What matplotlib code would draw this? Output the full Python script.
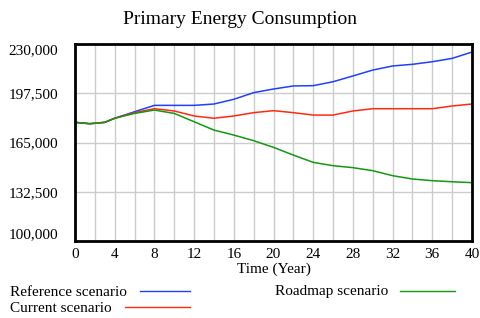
import matplotlib
matplotlib.use("Agg")
import matplotlib.pyplot as plt
from matplotlib.lines import Line2D

plt.rcParams['font.family'] = ['Liberation Serif', 'DejaVu Serif']

years = [0, 1.5, 3, 4, 6, 8, 10, 12, 14, 16, 18, 20, 22, 24, 26, 28, 30, 32, 34, 36, 38, 40]
reference = [178300, 177400, 178300, 181000, 185300, 189500, 189500, 189500, 190400, 193500, 197900,
             200300, 202300, 202500, 205100, 208900, 212800, 215500, 216600, 218300, 220500, 224700]
current = [178300, 177400, 178300, 181000, 184700, 187300, 185800, 182500, 181000, 182500, 184700,
           186000, 184700, 183100, 183100, 185800, 187300, 187300, 187300, 187300, 189100, 190400]
roadmap = [178300, 177400, 178300, 181000, 184200, 186400, 184200, 178700, 173200, 169900, 166200,
           161800, 156700, 151900, 149700, 148400, 146400, 143100, 140900, 139800, 139100, 138500]

y_ticks = [100000, 132500, 165000, 197500, 230000]
x_ticks = list(range(0, 41, 4))

fig = plt.figure(figsize=(4.81, 3.18), dpi=100)
ax = fig.add_axes([75 / 481, 77 / 318, 397 / 481, 197 / 318])

ax.plot(years, reference, color='#1f3fff', lw=1.1)
ax.plot(years, current, color='#ff2a10', lw=1.1)
ax.plot(years, roadmap, color='#119911', lw=1.1)

ax.set_xlim(0, 40)
ax.set_ylim(100000, 230000)
ax.set_xticks(x_ticks)
ax.set_xticks(range(0, 41, 2), minor=True)
ax.set_yticks(y_ticks)
ax.set_yticklabels([f"{v:,}" for v in y_ticks])
ax.grid(True, which='both', axis='x', color='#cccccc', lw=1)
ax.grid(True, which='major', axis='y', color='#cccccc', lw=1)
ax.tick_params(which='both', length=0, labelsize=11)
ax.tick_params(axis='y', pad=12)
ax.tick_params(axis='x', pad=5)
labels = ax.get_yticklabels()
labels[0].set_va('bottom')
labels[-1].set_va('top')
for s in ax.spines.values():
    s.set_linewidth(2)
ax.set_xlabel('Time (Year)', fontsize=11, labelpad=1)
fig.text(240 / 481, 1 - 20 / 318, 'Primary Energy Consumption', ha='center', va='center', fontsize=14)

# legend below the chart
fig.text(10 / 481, 1 - 292 / 318, 'Reference scenario', ha='left', va='center', fontsize=11)
fig.text(10 / 481, 1 - 309 / 318, 'Current scenario', ha='left', va='center', fontsize=11)
fig.text(275 / 481, 1 - 292 / 318, 'Roadmap scenario', ha='left', va='center', fontsize=11)
fig.add_artist(Line2D([140 / 481, 190 / 481], [1 - 291 / 318] * 2, color='#1f3fff', lw=1))
fig.add_artist(Line2D([125 / 481, 190 / 481], [1 - 307 / 318] * 2, color='#ff2a10', lw=1))
fig.add_artist(Line2D([400 / 481, 455 / 481], [1 - 291 / 318] * 2, color='#119911', lw=1))

fig.savefig('out.png', dpi=100)
